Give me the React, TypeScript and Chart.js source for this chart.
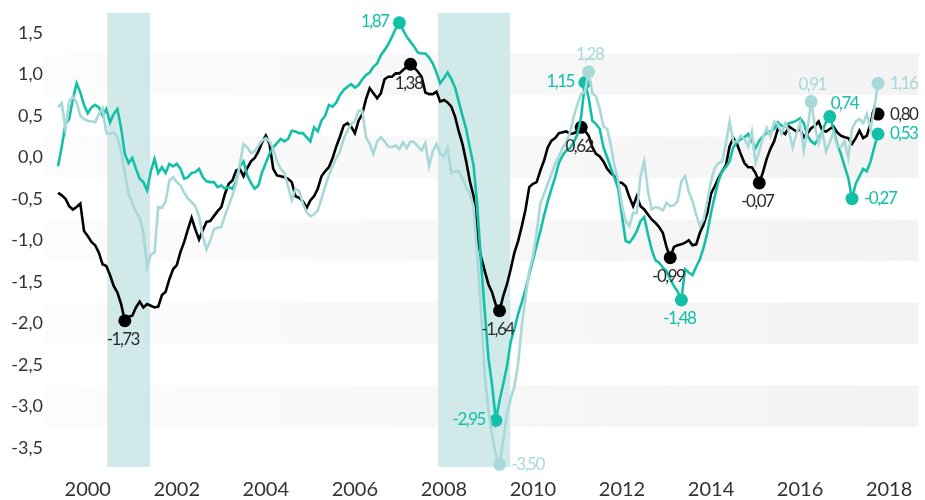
import React, { useEffect, useRef } from "react";
import { Chart, registerables } from "chart.js";

Chart.register(...registerables);

// ---------- data ----------
const START_YEAR = 1999;
const START_MONTH = 5; // first observation: May 1999, monthly

const xTickYears = [2000, 2002, 2004, 2006, 2008, 2010, 2012, 2014, 2016, 2018];
const yTickValues = [1.5, 1.0, 0.5, 0.0, -0.5, -1.0, -1.5, -2.0, -2.5, -3.0, -3.5];

const recessionPeriods = [
  [2000.44, 2001.4],
  [2007.87, 2009.49],
];
const shadedBands = [
  [0.75, 1.25],
  [-0.25, 0.25],
  [-1.25, -0.75],
  [-2.25, -1.75],
  [-3.25, -2.75],
];

const blackSeries = [
  -0.43, -0.46, -0.5, -0.59, -0.63, -0.6, -0.56, -0.89, -0.95, -1.02,
  -1.06, -1.15, -1.29, -1.31, -1.42, -1.55, -1.63, -1.77, -1.97, -1.92,
  -1.91, -1.81, -1.74, -1.81, -1.77, -1.79, -1.81, -1.8, -1.66, -1.62,
  -1.47, -1.35, -1.3, -1.14, -1.02, -0.87, -0.73, -0.87, -0.99, -0.88,
  -0.78, -0.77, -0.71, -0.65, -0.6, -0.44, -0.32, -0.28, -0.16, -0.14,
  -0.23, -0.13, -0.05, -0.01, 0.07, 0.18, 0.26, 0.16, -0.14, -0.22,
  -0.23, -0.24, -0.26, -0.3, -0.47, -0.49, -0.53, -0.61, -0.52, -0.47,
  -0.38, -0.23, -0.17, -0.12, -0.01, 0.13, 0.25, 0.38, 0.41, 0.37,
  0.29, 0.44, 0.52, 0.7, 0.83, 0.77, 0.71, 0.77, 0.94, 0.97,
  0.97, 1.01, 1.01, 1.05, 1.09, 1.12, 1.08, 1.03, 0.97, 0.78,
  0.76, 0.76, 0.79, 0.67, 0.69, 0.66, 0.61, 0.49, 0.31, 0.16,
  -0.05, -0.29, -0.47, -0.95, -1.2, -1.37, -1.53, -1.63, -1.78, -1.85,
  -1.67, -1.53, -1.35, -1.15, -1.01, -0.83, -0.63, -0.36, -0.32, -0.3,
  -0.16, -0.04, 0.12, 0.2, 0.23, 0.29, 0.3, 0.31, 0.28, 0.29,
  0.31, 0.36, 0.32, 0.26, 0.12, 0.04, 0.01, -0.05, -0.14, -0.19,
  -0.23, -0.3, -0.31, -0.35, -0.48, -0.59, -0.47, -0.59, -0.63, -0.69,
  -0.75, -0.79, -0.84, -0.91, -1.08, -1.21, -1.08, -1.06, -1.05, -1.03,
  -1.0, -1.06, -1.05, -0.91, -0.81, -0.67, -0.44, -0.35, -0.25, -0.17,
  -0.1, 0.13, 0.23, 0.16, 0.04, -0.07, -0.12, -0.12, -0.19, -0.31,
  -0.18, -0.02, 0.1, 0.19, 0.34, 0.31, 0.28, 0.37, 0.34, 0.31,
  0.34, 0.24, 0.29, 0.35, 0.38, 0.43, 0.32, 0.31, 0.34, 0.37,
  0.3, 0.26, 0.24, 0.23, 0.16, 0.23, 0.32, 0.23, 0.26, 0.41,
  0.59, 0.52,
];

const tealSeries = [
  -0.11, 0.13, 0.4, 0.46, 0.7, 0.89, 0.78, 0.63, 0.53, 0.6,
  0.63, 0.6, 0.5, 0.58, 0.42, 0.52, 0.58, 0.35, 0.04, -0.07,
  -0.01, -0.14, -0.26, -0.3, -0.4, -0.17, -0.02, -0.19, -0.12, -0.19,
  -0.08, -0.11, -0.08, -0.14, -0.26, -0.24, -0.19, -0.18, -0.14, -0.24,
  -0.29, -0.3, -0.3, -0.36, -0.34, -0.38, -0.36, -0.38, -0.29, -0.11,
  -0.05, -0.22, -0.31, -0.38, -0.34, -0.18, -0.07, 0.04, 0.12, 0.17,
  0.22, 0.19, 0.22, 0.32, 0.31, 0.29, 0.29, 0.24, 0.19, 0.36,
  0.31, 0.44, 0.5, 0.63, 0.61, 0.66, 0.75, 0.81, 0.85, 0.88,
  0.84, 0.87, 0.94, 0.99, 1.02, 1.09, 1.13, 1.23, 1.29, 1.36,
  1.45, 1.55, 1.62, 1.53, 1.45, 1.39, 1.33, 1.26, 1.25, 1.25,
  1.2, 1.13, 1.02, 0.89, 0.95, 1.02, 0.94, 0.84, 0.67, 0.5,
  0.34, 0.11, -0.1, -0.59, -1.26, -1.85, -2.42, -2.75, -3.17, -2.93,
  -2.73, -2.52, -2.22, -2.07, -1.89, -1.75, -1.59, -1.41, -1.24, -1.06,
  -0.89, -0.7, -0.53, -0.38, -0.24, -0.07, 0.02, 0.08, 0.11, 0.18,
  0.28, 0.49, 0.9, 0.72, 0.44, 0.4, 0.34, 0.12, 0.0, -0.13,
  -0.25, -0.38, -0.71, -1.01, -1.03, -0.97, -0.89, -0.77, -0.72, -0.93,
  -1.11, -1.24, -1.27, -1.33, -1.37, -1.47, -1.55, -1.62, -1.72, -1.35,
  -1.39, -1.42, -1.32, -1.23, -1.09, -0.91, -0.67, -0.47, -0.29, -0.16,
  -0.12, -0.05, 0.12, 0.18, 0.22, 0.24, 0.28, 0.19, 0.11, 0.2,
  0.25, 0.29, 0.31, 0.34, 0.42, 0.38, 0.37, 0.41, 0.42, 0.44,
  0.47, 0.41, 0.26, 0.19, 0.16, 0.23, 0.31, 0.43, 0.49, 0.34,
  0.16, 0.04, -0.11, -0.25, -0.5, -0.32, -0.23, -0.14, -0.17, -0.05,
  0.12, 0.28,
];

const lightSeries = [
  0.6, 0.65, 0.34, 0.67, 0.73, 0.66, 0.5, 0.46, 0.44, 0.43,
  0.42, 0.52, 0.59, 0.29, 0.28, 0.3, 0.24, 0.07, -0.19, -0.44,
  -0.55, -0.66, -0.73, -0.91, -1.32, -1.17, -1.15, -0.6, -0.61, -0.53,
  -0.28, -0.24, -0.3, -0.34, -0.43, -0.5, -0.54, -0.59, -0.71, -0.95,
  -1.11, -1.01, -0.87, -0.85, -0.84, -0.7, -0.58, -0.46, -0.32, -0.08,
  0.16, 0.12, 0.05, 0.07, 0.14, 0.2, 0.23, 0.19, 0.1, -0.05,
  -0.14, -0.19, -0.35, -0.52, -0.38, -0.41, -0.56, -0.66, -0.71, -0.69,
  -0.64, -0.5, -0.35, -0.22, -0.1, -0.01, 0.07, 0.22, 0.32, 0.4,
  0.43, 0.56, 0.56, 0.24, 0.16, 0.04, 0.19, 0.24, 0.19, 0.13,
  0.12, 0.14, 0.1, 0.18, 0.11, 0.19, 0.18, 0.13, 0.08, 0.17,
  -0.11, 0.07, 0.16, 0.04, 0.01, 0.11, -0.19, -0.17, -0.17, -0.26,
  -0.36, -0.44, -0.59, -1.19, -1.85, -2.62, -3.05, -3.35, -3.59, -3.7,
  -3.41, -3.09, -2.91, -2.76, -2.49, -2.03, -1.69, -1.37, -1.19, -0.91,
  -0.56, -0.44, -0.32, -0.2, -0.08, 0.01, 0.11, 0.18, 0.3, 0.49,
  0.64, 0.76, 0.79, 1.03, 0.77, 0.73, 0.58, 0.37, 0.34, 0.14,
  -0.11, -0.29, -0.59, -0.77, -0.83, -0.67, -0.67, -0.23, -0.05, -0.41,
  -0.63, -0.6, -0.61, -0.64, -0.55, -0.59, -0.58, -0.53, -0.29, -0.23,
  -0.41, -0.53, -0.69, -0.83, -0.75, -0.53, -0.29, -0.13, -0.07, -0.05,
  0.16, 0.43, 0.19, 0.19, 0.26, 0.22, 0.13, 0.31, -0.07, 0.07,
  0.24, 0.35, 0.25, 0.43, 0.4, 0.28, 0.41, 0.31, 0.12, 0.28,
  0.41, 0.08, 0.34, 0.67, 0.37, 0.17, 0.31, 0.07, 0.18, 0.3,
  0.13, 0.12, 0.19, -0.01, 0.34, 0.43, 0.46, 0.41, 0.52, 0.34,
  0.58, 0.89,
];

// highlighted observations (index into series) and their printed labels
const blackMarkIdx = [18, 95, 119, 141, 165, 189, 221];
const blackMarkLabels = ["-1,73", "1,38", "-1,64", "0,62", "-0,99", "-0,07", "0,80"];
const tealMarkIdx = [92, 142, 118, 168, 208, 214, 221];
const tealMarkLabels = ["1,87", "1,15", "-2,95", "-1,48", "0,74", "-0,27", "0,53"];
const lightMarkIdx = [143, 119, 203, 221];
const lightMarkLabels = ["1,28", "-3,50", "0,91", "1,16"];

// ---------- style ----------
const BLACK = "#000000";
const TEAL = "#12c0a8";
const LIGHT = "#a8d8d8";
const BLACK_TEXT = "#2a2a2a";
const blackPlace = ["below", "below", "below", "below", "below", "below", "right"];
const tealPlace = ["left", "left", "left", "below", "aboveRight", "right", "right"];
const lightPlace = ["above", "right", "above", "right"];
const FONT = "Lato, 'DejaVu Sans', sans-serif";

const monthX = (i: number) => START_YEAR + (START_MONTH - 1 + i) / 12;
const toPoints = (arr: number[]) => arr.map((v, i) => ({ x: monthX(i), y: v }));

const backgroundPlugin = {
  id: "bgBands",
  beforeDatasetsDraw(chart: any) {
    const { ctx, chartArea: ca, scales } = chart;
    const xs = scales.x;
    const ys = scales.y;
    ctx.save();
    const grad = ctx.createLinearGradient(ca.left, 0, ca.right, 0);
    grad.addColorStop(0, "#fcfcfc");
    grad.addColorStop(1, "#f3f3f3");
    ctx.fillStyle = grad;
    shadedBands.forEach(([lo, hi]) => {
      const t = ys.getPixelForValue(hi);
      const b = ys.getPixelForValue(lo);
      ctx.fillRect(ca.left, t, ca.right - ca.left, b - t);
    });
    ctx.fillStyle = "#d2e9ea";
    recessionPeriods.forEach(([a, b]) => {
      const l = xs.getPixelForValue(a);
      const r = xs.getPixelForValue(b);
      ctx.fillRect(l, ca.top, r - l, ca.bottom - ca.top);
    });
    ctx.restore();
  },
};

const labelPlugin = {
  id: "pointLabels",
  afterDatasetsDraw(chart: any) {
    const { ctx } = chart;
    const groups = [
      { ds: 0, idx: lightMarkIdx, labels: lightMarkLabels, place: lightPlace, color: LIGHT },
      { ds: 1, idx: tealMarkIdx, labels: tealMarkLabels, place: tealPlace, color: TEAL },
      { ds: 2, idx: blackMarkIdx, labels: blackMarkLabels, place: blackPlace, color: BLACK_TEXT },
    ];
    ctx.save();
    ctx.font = `17px ${FONT}`;
    try {
      (ctx as any).letterSpacing = "-1.5px";
    } catch (e) {}
    ctx.textBaseline = "middle";
    groups.forEach((g) => {
      const meta = chart.getDatasetMeta(g.ds);
      g.idx.forEach((di, k) => {
        const pt = meta.data[di];
        if (!pt) return;
        const px = pt.x;
        const py = pt.y;
        let tx = px;
        let ty = py;
        let align: CanvasTextAlign = "center";
        switch (g.place[k]) {
          case "below":
            tx = px - 2;
            ty = py + 19;
            break;
          case "above":
            tx = px + 1;
            ty = py - 17;
            break;
          case "left":
            align = "right";
            tx = px - 11;
            ty = py - 1;
            break;
          case "right":
            align = "left";
            tx = px + 12;
            ty = py;
            break;
          case "aboveRight":
            align = "left";
            tx = px + 1;
            ty = py - 13;
            break;
        }
        ctx.textAlign = align;
        ctx.fillStyle = g.color;
        ctx.fillText(g.labels[k], tx, ty);
      });
    });
    ctx.restore();
  },
};

export default function App() {
  const canvasRef = useRef<HTMLCanvasElement | null>(null);

  useEffect(() => {
    document.body.style.margin = "0";
    const canvas = canvasRef.current;
    if (!canvas) return;

    const markRadius = (idx: number[]) => (c: any) => (idx.includes(c.dataIndex) ? 6.5 : 0);

    const lineDs = (label: string, data: number[], color: string, idx: number[]) => ({
      label,
      data: toPoints(data),
      borderColor: color,
      backgroundColor: color,
      borderWidth: 2.6,
      tension: 0,
      pointRadius: markRadius(idx),
      pointHoverRadius: markRadius(idx),
      pointBackgroundColor: color,
      pointBorderWidth: 0,
      clip: false as any,
    });

    const chart = new Chart(canvas, {
      type: "line",
      data: {
        datasets: [
          lineDs("light", lightSeries, LIGHT, lightMarkIdx),
          lineDs("teal", tealSeries, TEAL, tealMarkIdx),
          lineDs("black", blackSeries, BLACK, blackMarkIdx),
        ],
      },
      options: {
        animation: false,
        responsive: false,
        devicePixelRatio: 1,
        layout: { padding: { top: 11, left: 0, right: 0, bottom: 0 } },
        plugins: {
          legend: { display: false },
          tooltip: { enabled: false },
        },
        events: [],
        scales: {
          x: {
            type: "linear",
            min: 1999.04,
            max: 2018.66,
            grid: { display: false, drawTicks: false },
            border: { display: false },
            afterBuildTicks: (s: any) => {
              s.ticks = xTickYears.map((v) => ({ value: v }));
            },
            afterFit: (s: any) => {
              s.height = 33.2;
            },
            ticks: {
              autoSkip: false,
              maxRotation: 0,
              padding: 11,
              color: "#333333",
              font: { family: FONT, size: 20 },
              callback: (v: any) => String(v),
            },
          },
          y: {
            type: "linear",
            min: -3.73,
            max: 1.74,
            grid: { display: false, drawTicks: false },
            border: { display: false },
            afterBuildTicks: (s: any) => {
              s.ticks = yTickValues.map((v) => ({ value: v }));
            },
            afterFit: (s: any) => {
              s.width = 45;
            },
            ticks: {
              padding: 2,
              color: "#333333",
              font: { family: FONT, size: 18 },
              callback: (v: any) => Number(v).toFixed(1).replace(".", ","),
            },
          },
        },
      },
      plugins: [backgroundPlugin, labelPlugin],
    } as any);

    return () => {
      chart.destroy();
    };
  }, []);

  return (
    <div style={{ width: 925, height: 500, background: "#ffffff" }}>
      <canvas ref={canvasRef} width={925} height={500} style={{ display: "block" }} />
    </div>
  );
}
